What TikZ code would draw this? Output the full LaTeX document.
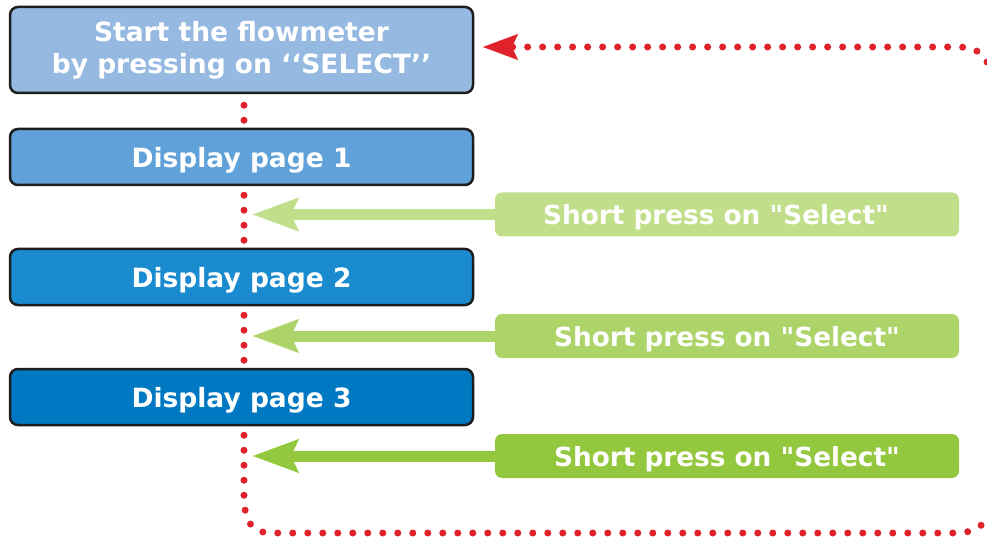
\documentclass[tikz,border=0pt]{standalone}
\usepackage{fontspec}
\setmainfont{DejaVu Sans}[Ligatures=TeXOff]
\usetikzlibrary{arrows.meta,backgrounds}
\definecolor{boxline}{HTML}{1E1E1E}
\definecolor{bstart}{HTML}{95B9E0}
\definecolor{bone}{HTML}{5FA1D8}
\definecolor{btwo}{HTML}{1B8BD0}
\definecolor{bthree}{HTML}{0079C2}
\definecolor{gone}{HTML}{C1DF8A}
\definecolor{gtwo}{HTML}{ACD468}
\definecolor{gthree}{HTML}{93C83E}
\definecolor{dotred}{HTML}{E0232B}
\begin{document}
\begin{tikzpicture}[x=1pt,y=-1pt,
  bluebox/.style={draw=boxline, line width=2.5pt, rounded corners=8pt,
    minimum width=463pt, text=white, align=center, inner sep=0pt,
    font=\bfseries\fontsize{26.5}{32}\selectfont},
  oneline/.style={text height=21pt, text depth=0pt},
  greenbox/.style={rounded corners=7pt, minimum width=464pt, minimum height=44pt,
    text=white, inner sep=0pt, text height=21pt, text depth=0pt,
    font=\bfseries\fontsize{26.3}{32}\selectfont},
  reddot/.style={draw=dotred, line width=7pt, line cap=round,
    dash pattern=on 0pt off 15pt},
  greenarrow/.style={line width=11pt,
    -{Stealth[length=46pt,width=34pt,inset=8pt,line width=0.1pt]}}]
\useasboundingbox (0,0) rectangle (987,537);

\node[bluebox, fill=bstart, minimum height=86pt] (start) at (241.5,50)
  {Start the flowmeter\\by pressing on ‘‘SELECT’’};
\node[bluebox, oneline, fill=bone, minimum height=56pt] (p1) at (241.5,157) {Display page 1};
\node[bluebox, oneline, fill=btwo, minimum height=56pt] (p2) at (241.5,277) {Display page 2};
\node[bluebox, oneline, fill=bthree, minimum height=56pt] (p3) at (241.5,397) {Display page 3};

\node[greenbox, fill=gone] (g1) at (727,214.5) {\hspace*{-22pt}Short press on "Select"};
\node[greenbox, fill=gtwo] (g2) at (727,336) {Short press on "Select"};
\node[greenbox, fill=gthree] (g3) at (727,456) {Short press on "Select"};

\coordinate (t1) at (253,214.5);
\coordinate (t2) at (253,336);
\coordinate (t3) at (253,456);
\coordinate (topend) at (483,47);

\begin{pgfonlayer}{background}
\draw[reddot] ([xshift=2.5pt,yshift=-11pt]start.south) -- (244,495)
  .. controls (244,522) and (252,533) .. (272,533) -- (955,533)
  .. controls (972,533) and (980,528) .. (987,519);
\draw[reddot, -{Stealth[length=35pt,width=26pt,inset=6pt,line width=0.1pt]}]
  (987,62) .. controls (980,50) and (972,47) .. (957,47) -- (topend);
\end{pgfonlayer}

\draw[greenarrow, draw=gone] (g1.west) -- (t1);
\draw[greenarrow, draw=gtwo] (g2.west) -- (t2);
\draw[greenarrow, draw=gthree] (g3.west) -- (t3);
\end{tikzpicture}
\end{document}
